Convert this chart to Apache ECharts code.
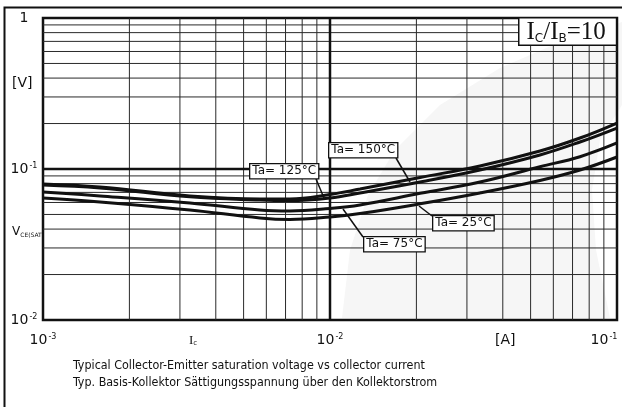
<!DOCTYPE html>
<html><head><meta charset="utf-8">
<script src="https://cdn.jsdelivr.net/npm/echarts@6/dist/echarts.min.js"></script>
<style>html,body{margin:0;padding:0;background:#fff}#c{width:622px;height:407px}</style>
</head><body><div id="c"></div>
<script>
// ---- data ----
const xMinor = [0.002,0.003,0.004,0.005,0.006,0.007,0.008,0.009,0.02,0.03,0.04,0.05,0.06,0.07,0.08,0.09];
const yMinor = [0.02,0.03,0.04,0.05,0.06,0.07,0.08,0.09,0.2,0.3,0.4,0.5,0.6,0.7,0.8,0.9];
const xMajor = [0.01];
const yMajor = [0.1];
const ic = [0.001,0.00158,0.00325,0.0057,0.00725,0.01,0.01272,0.0206,0.0333,0.0539,0.0743,0.1];
const vTa150 = [0.0796,0.0760,0.0663,0.0633,0.0633,0.0678,0.0737,0.0879,0.1047,0.1316,0.1604,0.2016];
const vTa125 = [0.0783,0.0748,0.0654,0.0623,0.0618,0.0643,0.0694,0.0820,0.0985,0.1238,0.1510,0.1868];
const vTa75  = [0.0704,0.0663,0.0595,0.0535,0.0527,0.0548,0.0578,0.0690,0.0820,0.1035,0.1206,0.1487];
const vTa25  = [0.0643,0.0605,0.0535,0.0474,0.0463,0.0481,0.0507,0.0588,0.0694,0.0840,0.0985,0.1201];
const seriesNames = ['Ta= 150°C','Ta= 125°C','Ta= 75°C','Ta= 25°C'];
const xRange = [0.001, 0.1];
const yRange = [0.01, 1];

const FONT = 'DejaVu Sans';
const chart = echarts.init(document.getElementById('c'), null, {renderer:'canvas'});
const pairs = v => ic.map((x,i)=>[x,v[i]]);
const supFmt = v => {
  const e = Math.round(Math.log10(v));
  return e === 0 ? '1' : '10{s|' + e + '}';
};
const xFmt = v => supFmt(v) + (Math.abs(v - xRange[1]) < 1e-9 ? '{pad|}' : '');
const supRich = {
  s:{fontSize:8, fontFamily:FONT, color:'#111', verticalAlign:'top', lineHeight:8, padding:[0,0,0,1]},
  pad:{width:26}
};

const curve = (name, v) => ({
  name, type:'line', data:pairs(v), smooth:0.4, symbol:'none', z:5,
  lineStyle:{color:'#111', width:3}, silent:true
});
const gridLine = (pts, w, c) => ({
  type:'line', data:pts, symbol:'none', z:1, silent:true, clip:false,
  lineStyle:{color:c, width:w}
});
const gridSeries = [
  ...xMinor.map(x=>gridLine([[x,yRange[0]],[x,yRange[1]]], 1, '#2a2a2a')),
  ...yMinor.map(y=>gridLine([[xRange[0],y],[xRange[1],y]], 1, '#2a2a2a')),
  ...xMajor.map(x=>gridLine([[x,yRange[0]],[x,yRange[1]]], 2.5, '#111')),
  ...yMajor.map(y=>gridLine([[xRange[0],y],[xRange[1],y]], 2.5, '#111'))
];

chart.setOption({
  animation:false,
  backgroundColor:'#fff',
  grid:{left:43, top:18, right:5, bottom:87, outerBoundsMode:'none', containLabel:false,
    show:true, borderColor:'#111', borderWidth:2.5, backgroundColor:'transparent'},
  xAxis:{type:'log', logBase:10, min:xRange[0], max:xRange[1],
    axisLine:{show:false}, axisTick:{show:false}, splitLine:{show:false},
    axisLabel:{formatter:xFmt, rich:supRich, fontSize:14, fontFamily:FONT, color:'#111', margin:13}},
  yAxis:{type:'log', logBase:10, min:yRange[0], max:yRange[1],
    axisLine:{show:false}, axisTick:{show:false}, splitLine:{show:false},
    axisLabel:{formatter:supFmt, rich:supRich, fontSize:14, fontFamily:FONT, color:'#111', margin:19, align:'center'}},
  series:[
    ...gridSeries,
    curve(seriesNames[0], vTa150),
    curve(seriesNames[1], vTa125),
    curve(seriesNames[2], vTa75),
    curve(seriesNames[3], vTa25)
  ],
  graphic:[
    {type:'polygon', z:-1, silent:true,
      shape:{points:[[342,318],[350,250],[368,195],[395,150],[440,105],[500,68],[560,42],[622,22],
                     [622,105],[600,140],[592,190],[596,250],[610,318]]},
      style:{fill:'#f6f6f6', stroke:'none'}},
    {type:'rect', shape:{x:4.5, y:7.5, width:640, height:420}, style:{fill:'none', stroke:'#111', lineWidth:2}, z:0, silent:true},
    {type:'text', left:12, top:76, style:{text:'[V]', font:'14px '+FONT, fill:'#111'}},
    {type:'text', left:12, top:226, style:{text:'V{s|CE(SAT)}', font:'12px '+FONT, fill:'#111',
      rich:{s:{fontSize:6, fontFamily:FONT, verticalAlign:'bottom', lineHeight:8}}}},
    {type:'text', left:189, top:334, style:{text:'I{s|c}', font:'13px Liberation Serif', fill:'#111',
      rich:{s:{fontSize:7, fontFamily:FONT, verticalAlign:'bottom', lineHeight:8}}}},
    {type:'text', left:495, top:333, style:{text:'[A]', font:'14px '+FONT, fill:'#111'}},
    {type:'text', left:73, top:360, style:{text:'Typical Collector-Emitter saturation voltage vs collector current', font:'12.4px DejaVu Sans Condensed', fill:'#111'}},
    {type:'text', left:73, top:377, style:{text:'Typ. Basis-Kollektor Sättigungsspannung über den Kollektorstrom', font:'12.4px DejaVu Sans Condensed', fill:'#111'}},
    // title box
    {type:'text', left:518, top:17, z:10, style:{text:'I{s|C}/I{s|B}=10', font:'25px Liberation Serif', fill:'#111',
      backgroundColor:'#fff', borderColor:'#111', borderWidth:1.5, padding:[1,10,0,7],
      rich:{s:{fontSize:12, fontFamily:FONT, verticalAlign:'bottom', lineHeight:16}}}},
    // leaders
    {type:'line', z:8, shape:{x1:316, y1:179, x2:324, y2:198}, style:{stroke:'#111', lineWidth:1.5}},
    {type:'line', z:8, shape:{x1:396, y1:158, x2:410, y2:182}, style:{stroke:'#111', lineWidth:1.5}},
    {type:'line', z:8, shape:{x1:432, y1:216, x2:419, y2:206}, style:{stroke:'#111', lineWidth:1.5}},
    {type:'line', z:8, shape:{x1:363, y1:237, x2:343, y2:209}, style:{stroke:'#111', lineWidth:1.5}},
    // labels
    {type:'text', left:249, top:163, z:10, style:{text:seriesNames[1], font:'12px '+FONT, fill:'#111', backgroundColor:'#fff', borderColor:'#111', borderWidth:1.3, padding:[1,2,1,2]}},
    {type:'text', left:328, top:142, z:10, style:{text:seriesNames[0], font:'12px '+FONT, fill:'#111', backgroundColor:'#fff', borderColor:'#111', borderWidth:1.3, padding:[1,2,1,2]}},
    {type:'text', left:432, top:215, z:10, style:{text:seriesNames[3], font:'12px '+FONT, fill:'#111', backgroundColor:'#fff', borderColor:'#111', borderWidth:1.3, padding:[1,2,1,2]}},
    {type:'text', left:363, top:236, z:10, style:{text:seriesNames[2], font:'12px '+FONT, fill:'#111', backgroundColor:'#fff', borderColor:'#111', borderWidth:1.3, padding:[1,2,1,2]}}
  ]
});
</script></body></html>
